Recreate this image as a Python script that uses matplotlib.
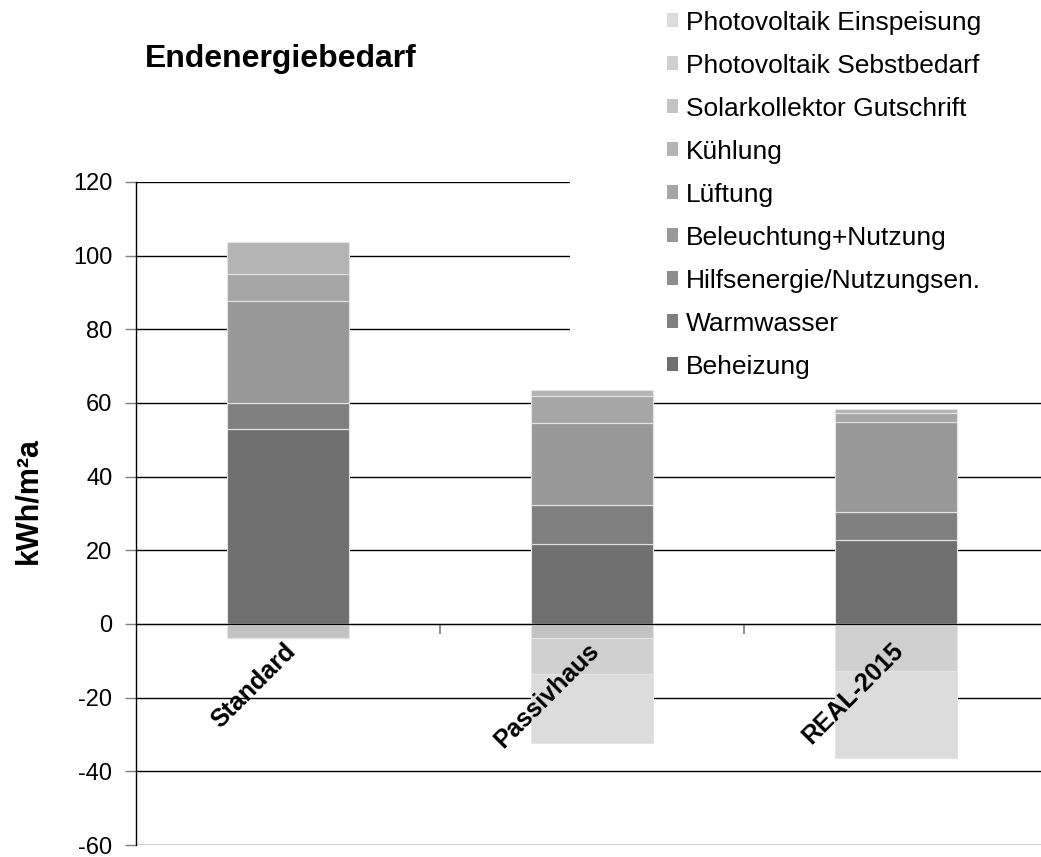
"""Endenergiebedarf - gestapelte Balken"""

import numpy as np
import matplotlib
matplotlib.use('Agg')
import matplotlib.pyplot as plt
from matplotlib.patches import Rectangle, Patch

plt.rcParams['font.family'] = ['Liberation Sans', 'DejaVu Sans']
plt.rcParams['axes.unicode_minus'] = False

varianten = ['Standard', 'Passivhaus', 'REAL-2015']

# positive Anteile (kWh/m²a)
beheizung = [52.9, 21.8, 22.9]
warmwasser = [7.2, 10.6, 7.5]
hilfsenergie = [0.0, 0.0, 0.0]
beleuchtung = [27.5, 22.3, 24.4]
lueftung = [7.3, 7.3, 2.6]
kuehlung = [8.7, 1.5, 0.9]

# Gutschriften (negativ)
solarkollektor = [-3.9, -3.9, 0.0]
pv_selbst = [0.0, -9.8, -12.7]
pv_einspeisung = [0.0, -18.7, -23.7]

positiv = [
    ('Beheizung', beheizung, '#707070'),
    ('Warmwasser', warmwasser, '#808080'),
    ('Hilfsenergie/Nutzungsen.', hilfsenergie, '#8c8c8c'),
    ('Beleuchtung+Nutzung', beleuchtung, '#999999'),
    ('Lüftung', lueftung, '#a6a6a6'),
    ('Kühlung', kuehlung, '#b4b4b4'),
]
negativ = [
    ('Solarkollektor Gutschrift', solarkollektor, '#c3c3c3'),
    ('Photovoltaik Sebstbedarf', pv_selbst, '#d0d0d0'),
    ('Photovoltaik Einspeisung', pv_einspeisung, '#dcdcdc'),
]

W, H = 1041, 857
fig = plt.figure(figsize=(W / 100, H / 100), dpi=100)
ax = fig.add_axes([136 / W, 1 - 845 / H, 912 / W, (845 - 182) / H])

x = np.arange(len(varianten))
breite = 0.4

unten = np.zeros(len(varianten))
for name, werte, farbe in positiv:
    werte = np.array(werte)
    ax.bar(x, werte, breite, bottom=unten, color=farbe, edgecolor='#e4e4e4',
           linewidth=0.8, zorder=2)
    unten += werte

unten = np.zeros(len(varianten))
for name, werte, farbe in negativ:
    werte = np.array(werte)
    ax.bar(x, werte, breite, bottom=unten, color=farbe, edgecolor='#e4e4e4',
           linewidth=0.8, zorder=2)
    unten += werte

ax.set_xlim(-0.5, 2.5)
ax.set_ylim(-60, 120)
ax.set_yticks(np.arange(-60, 121, 20))
ax.yaxis.grid(True, color='black', linewidth=1)
ax.set_axisbelow(True)

ax.spines['top'].set_visible(False)
ax.spines['right'].set_visible(False)
ax.spines['bottom'].set_position(('data', 0))
ax.spines['bottom'].set_zorder(3)
ax.spines['left'].set_linewidth(1)

ax.tick_params(axis='y', labelsize=17, length=8, width=1, color='#808080', pad=9)

# Trennstriche zwischen den Kategorien
ax.set_xticks([0.5, 1.5])
ax.set_xticklabels([])
ax.tick_params(axis='x', which='major', length=7, width=1.5, color='#909090',
               direction='out')

# Kategorienamen schraeg unter der Nulllinie, ueber den Balken
for i, name in enumerate(varianten):
    ax.text(i - 0.015, -4.0, name, rotation=45, ha='right', va='top',
            rotation_mode='anchor', fontsize=18, fontweight='bold', zorder=5)

fig.text(145 / W, 1 - 67 / H, 'Endenergiebedarf', fontsize=23,
         fontweight='bold', ha='left', va='baseline')
fig.text(28 / W, 1 - 500 / H, 'kWh/m²a', fontsize=22, fontweight='bold',
         rotation=90, ha='center', va='center')

# weisser Hintergrund der Legende
fig.patches.append(Rectangle((570 / W, 1 - 386 / H), 1 - 570 / W, 386 / H,
                             transform=fig.transFigure, facecolor='white',
                             edgecolor='none', zorder=1))

handles = [Patch(facecolor=f, edgecolor='none', label=n)
           for n, w, f in (negativ[::-1] + positiv[::-1])]
fig.legend(handles=handles, loc='upper left',
           bbox_to_anchor=(656 / W, 1.0), frameon=False, fontsize=19,
           handlelength=0.42, handleheight=0.42, handletextpad=0.3,
           labelspacing=0.72, borderaxespad=0)

fig.savefig('out.png', dpi=100)
